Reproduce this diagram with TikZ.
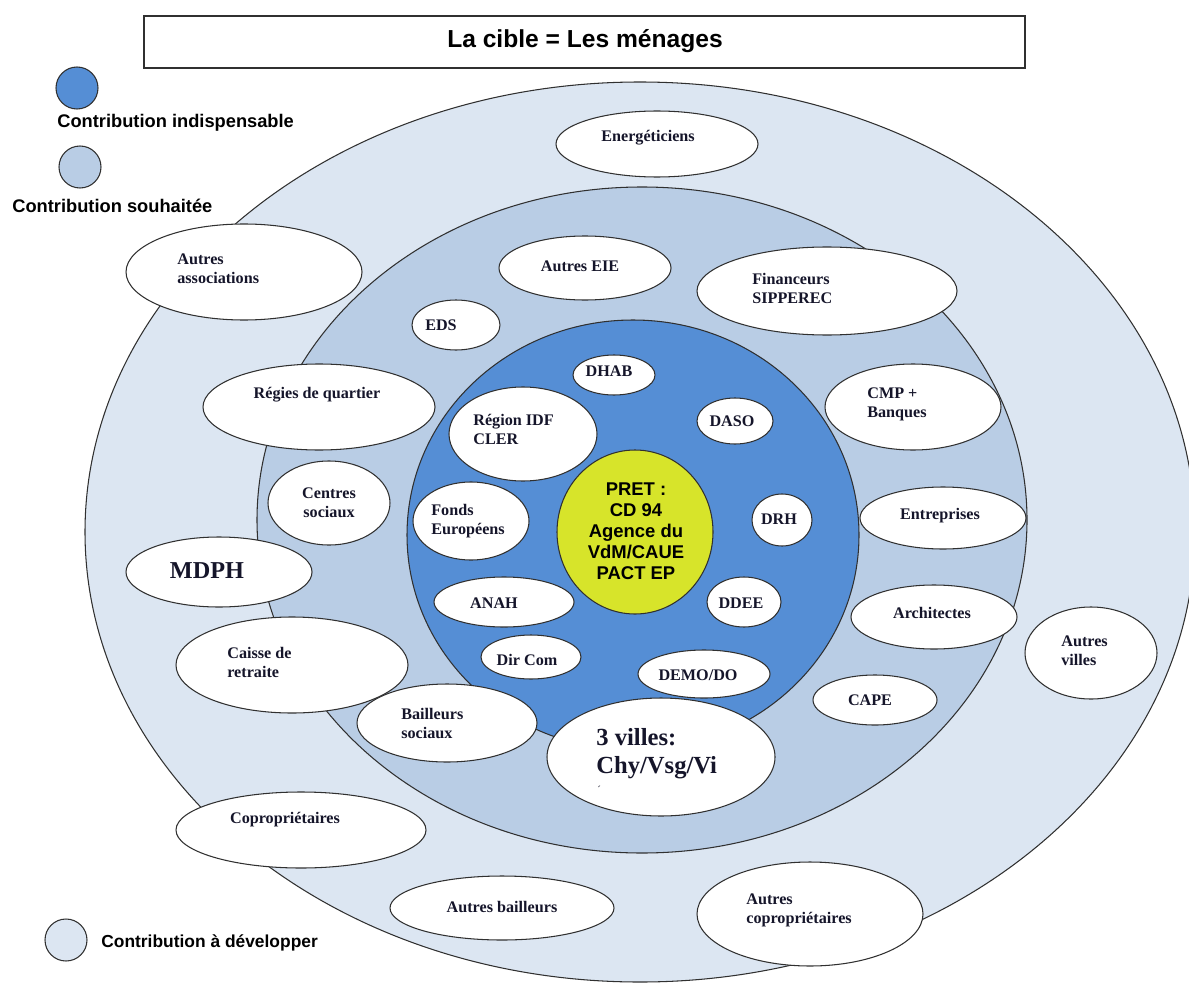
\documentclass[tikz,border=0pt]{standalone}
\usepackage{fontspec}
\setmainfont{Liberation Serif}
\setsansfont{Liberation Sans}
\definecolor{couronne}{HTML}{DCE6F2}
\definecolor{anneau}{HTML}{B9CDE5}
\definecolor{coeur}{HTML}{558ED5}
\definecolor{pret}{HTML}{D7E42A}
\definecolor{trait}{HTML}{303030}
\definecolor{encre}{HTML}{15152A}

\begin{document}
\begin{tikzpicture}[x=0.02cm,y=-0.02cm,
    zone/.style={draw=trait, line width=0.6pt},
    bulle/.style={draw=trait, fill=white, line width=0.6pt},
    lbl/.style={inner sep=0pt, text=encre, align=left, font=\bfseries\fontsize{9.2}{10.8}\selectfont},
    grand/.style={inner sep=0pt, text=encre, align=left, font=\bfseries\fontsize{14}{16}\selectfont},
    legende/.style={inner sep=0pt, font=\sffamily\bfseries\fontsize{10.4}{12}\selectfont}]
    \useasboundingbox (0,0) rectangle (1189,983);

    % titre et legende
    \draw[trait, line width=0.6pt] (144,16) rectangle (1025,68);
    \node[inner sep=0pt, font=\sffamily\bfseries\fontsize{14}{16}\selectfont] (titre) at (585,41) {La cible = Les ménages};
    \draw[zone, fill=coeur] (77,88) circle [radius=21];
    \node[legende, anchor=west] (leg1) at (57,123) {Contribution indispensable};
    \draw[zone, fill=anneau] (80,167) circle [radius=21];
    \node[legende, anchor=west] (leg2) at (12,206) {Contribution souhaitée};
    \draw[zone, fill=couronne] (66,940) circle [radius=21];
    \node[legende, anchor=west, font=\sffamily\bfseries\fontsize{9.9}{12}\selectfont] (leg3) at (101,943) {Contribution à développer};

    % anneaux
    \draw[zone, fill=couronne] (640,532) ellipse [x radius=555, y radius=450];
    \draw[zone, fill=anneau] (642,520) ellipse [x radius=385, y radius=333];
    \draw[zone, fill=coeur] (633,535) ellipse [x radius=226, y radius=215];
    \draw[zone, fill=pret] (635,532) ellipse [x radius=78, y radius=82];
    \node[inner sep=0pt, align=center, font=\sffamily\bfseries\fontsize{10.5}{12}\selectfont] (pretlbl) at (636,531) {PRET :\\ CD 94\\Agence du\\VdM/CAUE\\PACT EP};

    % contribution indispensable
    \draw[bulle] (614,375) ellipse [x radius=41, y radius=20];
    \node[lbl] (dhab) at (609,371) {DHAB};
    \draw[bulle] (523,434) ellipse [x radius=74, y radius=47];
    \node[lbl, anchor=west] (region) at (473,429) {Région IDF\\CLER};
    \draw[bulle] (735,421) ellipse [x radius=38, y radius=23];
    \node[lbl] (daso) at (732,421) {DASO};
    \draw[bulle] (471,521) ellipse [x radius=58, y radius=39];
    \node[lbl, anchor=west] (fonds) at (431,521) {Fonds\\Européens};
    \draw[bulle] (782,520) ellipse [x radius=30, y radius=26];
    \node[lbl] (drh) at (779,519) {DRH};
    \draw[bulle] (504,602) ellipse [x radius=70, y radius=25];
    \node[lbl] (anah) at (494,603) {ANAH};
    \draw[bulle] (744,602) ellipse [x radius=37, y radius=25];
    \node[lbl] (ddee) at (741,603) {DDEE};
    \draw[bulle] (531,657) ellipse [x radius=50, y radius=22];
    \node[lbl] (dircom) at (527,660) {Dir Com};
    \draw[bulle] (704,674) ellipse [x radius=66, y radius=24];
    \node[lbl] (demo) at (698,675) {DEMO/DO};
    \draw[bulle] (661,757) ellipse [x radius=114, y radius=59];
    \node[grand, anchor=west] (villes3) at (596,754) {3 villes:\\Chy/Vsg/Vi};
    \node[inner sep=0pt, text=encre, font=\fontsize{6}{6}\selectfont] (marque) at (599,790) {\textasciiacute};

    % contribution souhaitee
    \draw[bulle] (585,268) ellipse [x radius=86, y radius=32];
    \node[lbl] (eie) at (580,266) {Autres EIE};
    \draw[bulle] (827,291) ellipse [x radius=130, y radius=44];
    \node[lbl, anchor=west] (financeurs) at (752,288) {Financeurs\\SIPPEREC};
    \draw[bulle] (456,325) ellipse [x radius=44, y radius=25];
    \node[lbl] (eds) at (441,325) {EDS};
    \draw[bulle] (319,407) ellipse [x radius=116, y radius=43];
    \node[lbl] (regies) at (317,395) {Régies de quartier};
    \draw[bulle] (329,503) ellipse [x radius=61, y radius=42];
    \node[lbl, align=center] (centres) at (329,503) {Centres\\sociaux};
    \draw[bulle] (913,407) ellipse [x radius=88, y radius=43];
    \node[lbl, anchor=west] (cmp) at (867,404) {CMP +\\Banques};
    \draw[bulle] (943,518) ellipse [x radius=83, y radius=31];
    \node[lbl] (entreprises) at (940,516) {Entreprises};
    \draw[bulle] (934,617) ellipse [x radius=83, y radius=32];
    \node[lbl] (architectes) at (932,613) {Architectes};
    \draw[bulle] (875,700) ellipse [x radius=62, y radius=25];
    \node[lbl] (cape) at (870,700) {CAPE};
    \draw[bulle] (292,665) ellipse [x radius=116, y radius=48];
    \node[lbl, anchor=west] (caisse) at (227,662) {Caisse de\\retraite};
    \draw[bulle] (447,723) ellipse [x radius=90, y radius=39];
    \node[lbl, anchor=west] (bailleurs) at (401,723) {Bailleurs\\sociaux};

    % contribution a developper
    \draw[bulle] (657,144) ellipse [x radius=101, y radius=33];
    \node[lbl] (energ) at (648,138) {Energéticiens};
    \draw[bulle] (244,272) ellipse [x radius=118, y radius=48];
    \node[lbl, anchor=west] (assoc) at (177,269) {Autres\\associations};
    \draw[bulle] (219,572) ellipse [x radius=93, y radius=35];
    \node[inner sep=0pt, text=encre, font=\bfseries\fontsize{13.8}{16}\selectfont] (mdph) at (207,571) {MDPH};
    \draw[bulle] (1091,653) ellipse [x radius=66, y radius=46];
    \node[lbl, anchor=west] (villes) at (1061,651) {Autres\\villes};
    \draw[bulle] (301,830) ellipse [x radius=125, y radius=38];
    \node[lbl] (copro) at (285,820) {Copropriétaires};
    \draw[bulle] (502,908) ellipse [x radius=112, y radius=32];
    \node[lbl] (bailleurs2) at (502,907) {Autres bailleurs};
    \draw[bulle] (810,914) ellipse [x radius=113, y radius=52];
    \node[lbl, anchor=west] (copro2) at (746,910) {Autres\\copropriétaires};
\end{tikzpicture}
\end{document}
